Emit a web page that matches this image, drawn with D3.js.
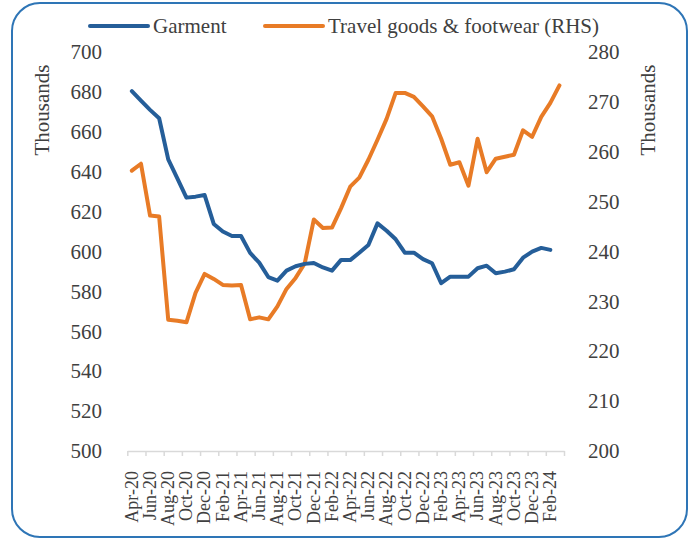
<!DOCTYPE html>
<html>
<head>
<meta charset="utf-8">
<script src="https://cdn.jsdelivr.net/npm/d3@7"></script>
<style>
  body { margin: 0; background: #fff; }
  svg text { font-family: "Liberation Serif", "DejaVu Serif", serif !important; fill: #404040; }
</style>
</head>
<body>
<div id="chart"></div>
<script>
// monthly categories, Apr-20 .. Mar-24
var months = ["Apr-20","May-20","Jun-20","Jul-20","Aug-20","Sep-20","Oct-20","Nov-20","Dec-20","Jan-21","Feb-21","Mar-21",
  "Apr-21","May-21","Jun-21","Jul-21","Aug-21","Sep-21","Oct-21","Nov-21","Dec-21","Jan-22","Feb-22","Mar-22",
  "Apr-22","May-22","Jun-22","Jul-22","Aug-22","Sep-22","Oct-22","Nov-22","Dec-22","Jan-23","Feb-23","Mar-23",
  "Apr-23","May-23","Jun-23","Jul-23","Aug-23","Sep-23","Oct-23","Nov-23","Dec-23","Jan-24","Feb-24","Mar-24"];

// thousands, left axis (ends Feb-24)
var garment = [680.4, 675.6, 671, 666.8, 646.2, 636.7, 627, 627.5, 628.3, 613.8, 610, 607.8,
  607.8, 599.3, 594.4, 587.2, 585.4, 590.4, 592.6, 593.8, 594.2, 592, 590.4, 595.8,
  595.7, 599.4, 603.3, 614.1, 610.4, 606.1, 599.4, 599.4, 596.2, 594.1, 584.1, 587.4,
  587.4, 587.4, 591.6, 592.9, 589.1, 589.9, 591.1, 596.9, 599.9, 601.8, 600.8];

// thousands, right axis
var travel = [256.2, 257.6, 247.2, 247.0, 226.3, 226.1, 225.8, 231.7, 235.5, 234.5, 233.3, 233.2,
  233.3, 226.4, 226.8, 226.4, 229.0, 232.5, 234.7, 237.6, 246.4, 244.7, 244.8, 248.7,
  253.0, 254.8, 258.4, 262.4, 266.6, 271.8, 271.8, 271.0, 269.1, 267.1, 262.6, 257.4,
  257.9, 253.2, 262.6, 255.9, 258.6, 259.0, 259.4, 264.3, 263.0, 267.0, 269.8, 273.3];

var leftTicks = [500, 520, 540, 560, 580, 600, 620, 640, 660, 680, 700];
var rightTicks = [200, 210, 220, 230, 240, 250, 260, 270, 280];

var W = 690, H = 540;
var x0 = 127.3, x1 = 564, yTop = 52, yBot = 451;
var serif = '"Liberation Serif", "DejaVu Serif", serif';

var svg = d3.select("#chart").append("svg")
    .attr("width", W)
    .attr("height", H)
    .attr("font-family", serif);

// outer rounded frame
svg.append("rect")
    .attr("x", 12).attr("y", 3)
    .attr("width", 675).attr("height", 534)
    .attr("rx", 28).attr("ry", 28)
    .attr("fill", "none")
    .attr("stroke", "#2e75b6")
    .attr("stroke-width", 2);

var x = d3.scaleBand().domain(months).range([x0, x1]);
var xb = d3.scaleLinear().domain([0, months.length]).range([x0, x1]);
var yL = d3.scaleLinear().domain([500, 700]).range([yBot, yTop]);
var yR = d3.scaleLinear().domain([200, 280]).range([yBot, yTop]);

function cx(i) { return x(months[i]) + x.bandwidth() / 2; }

// x axis: ticks every 2 months on category boundaries
var gx = svg.append("g")
    .attr("transform", "translate(0," + yBot + ")")
    .call(d3.axisBottom(xb).tickValues(d3.range(0, months.length + 1, 2)).tickFormat("").tickSize(5).tickSizeOuter(0));
gx.selectAll("path, line").attr("stroke", "#d9d9d9").attr("stroke-width", 1.5);

var gxl = svg.append("g")
    .attr("transform", "translate(0," + yBot + ")")
    .call(d3.axisBottom(x).tickValues(months.filter(function(d, i) { return i % 2 == 0; })).tickSize(0));
gxl.attr("font-family", serif);
gxl.select(".domain").remove();
gxl.selectAll("text")
    .attr("font-family", serif)
    .attr("font-size", 18)
    .attr("text-anchor", "end")
    .attr("transform", "translate(0,20) rotate(-90)")
    .attr("x", 0).attr("y", 0).attr("dy", "0.32em");

// left axis
var gl = svg.append("g")
    .attr("transform", "translate(106,0)")
    .call(d3.axisLeft(yL).tickValues(leftTicks).tickSize(0).tickPadding(4));
gl.attr("font-family", serif);
gl.select(".domain").remove();
gl.selectAll("text").attr("font-family", serif).attr("font-size", 21);

// right axis
var gr = svg.append("g")
    .attr("transform", "translate(584,0)")
    .call(d3.axisRight(yR).tickValues(rightTicks).tickSize(0).tickPadding(4));
gr.attr("font-family", serif);
gr.select(".domain").remove();
gr.selectAll("text").attr("font-family", serif).attr("font-size", 21);

// axis titles
svg.append("text")
    .attr("text-anchor", "middle")
    .attr("font-size", 21)
    .attr("transform", "translate(49,110) rotate(-90)")
    .text("Thousands");
svg.append("text")
    .attr("text-anchor", "middle")
    .attr("font-size", 21)
    .attr("transform", "translate(655,110) rotate(-90)")
    .text("Thousands");

// lines
var lineG = d3.line()
    .x(function(d, i) { return cx(i); })
    .y(function(d) { return yL(d); });
var lineT = d3.line()
    .x(function(d, i) { return cx(i); })
    .y(function(d) { return yR(d); });

svg.append("path")
    .datum(travel)
    .attr("fill", "none")
    .attr("stroke", "#e87b26")
    .attr("stroke-width", 4)
    .attr("stroke-linejoin", "round")
    .attr("stroke-linecap", "round")
    .attr("d", lineT);

svg.append("path")
    .datum(garment)
    .attr("fill", "none")
    .attr("stroke", "#255e99")
    .attr("stroke-width", 4)
    .attr("stroke-linejoin", "round")
    .attr("stroke-linecap", "round")
    .attr("d", lineG);

// legend
var legend = [
  {name: "Garment", color: "#255e99", x: 90},
  {name: "Travel goods & footwear (RHS)", color: "#e87b26", x: 265}
];
var lg = svg.selectAll(".leg").data(legend).enter().append("g")
    .attr("class", "leg")
    .attr("transform", function(d) { return "translate(" + d.x + ",26)"; });
lg.append("line")
    .attr("x1", 0).attr("x2", 58)
    .attr("stroke", function(d) { return d.color; })
    .attr("stroke-width", 4)
    .attr("stroke-linecap", "round");
lg.append("text")
    .attr("x", 63)
    .attr("dy", "0.32em")
    .attr("font-size", 21)
    .text(function(d) { return d.name; });
</script>
</body>
</html>
